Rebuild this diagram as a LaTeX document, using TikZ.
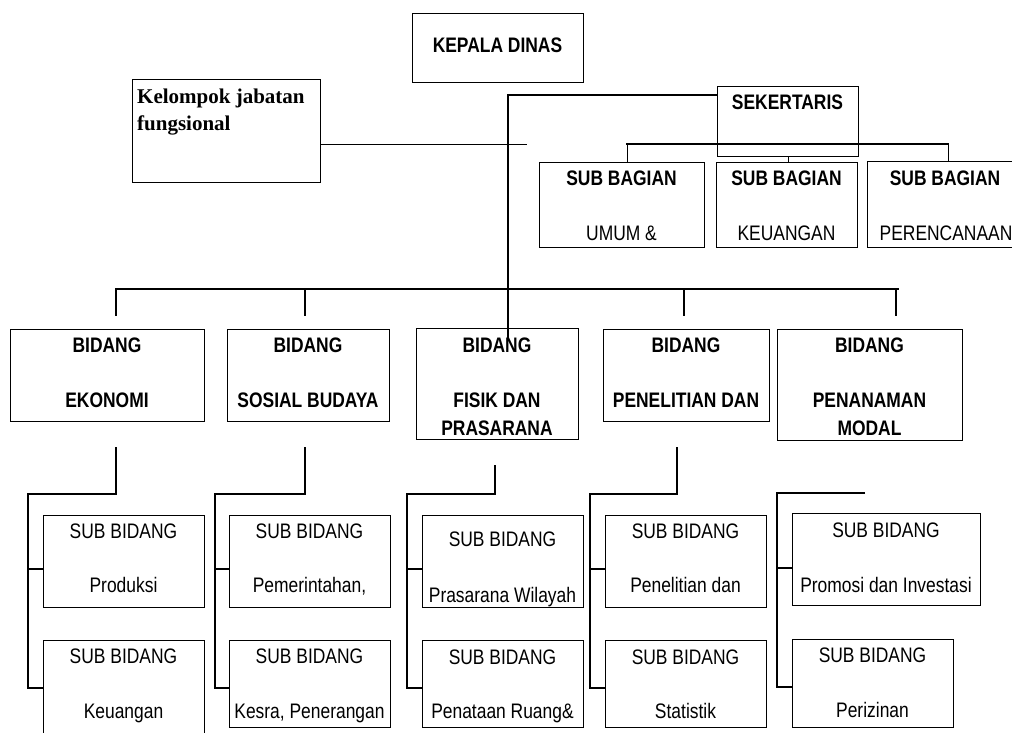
\documentclass[tikz,border=0pt]{standalone}
\usepackage{fontspec}
\setmainfont{Liberation Sans}[FakeStretch=0.83]
\newfontfamily\kelfont{Liberation Serif}
\begin{document}
\begin{tikzpicture}[x=1pt,y=-1pt,
  box/.style={draw=black,line width=1pt,rectangle,inner sep=0pt,outer sep=0pt},
  txt/.style={inner sep=0pt,outer sep=0pt,anchor=base,font=\fontsize{21}{25}\selectfont},
  btxt/.style={txt,font=\fontsize{21}{25}\selectfont\bfseries},
  conn/.style={line width=1.8pt,line cap=rect},
  thinconn/.style={line width=1pt}]
\newcommand{\boxnode}[5]{%
  \pgfmathsetmacro\bw{#4-#2}\pgfmathsetmacro\bh{#5-#3}%
  \node[box,minimum width=\bw pt,minimum height=\bh pt,anchor=north west] (#1) at (#2,#3) {};}
\fill[white] (0,0) rectangle (1012,733);
\useasboundingbox (0,0) rectangle (1012,733);

% ---- boxes
\boxnode{kepala}{412}{14}{583}{83}
\boxnode{kel}{132}{80}{320}{182}
\boxnode{sek}{717}{87}{858}{157}
\boxnode{sb1}{539}{163}{704}{247}
\boxnode{sb2}{716}{163}{857}{247}
\boxnode{sb3}{867}{162}{1023}{247}
\boxnode{b1}{10}{329}{204}{421}
\boxnode{b2}{227}{329}{389}{421}
\boxnode{b3}{416}{328}{578}{439}
\boxnode{b4}{603}{329}{769}{421}
\boxnode{b5}{777}{329}{962}{440}
\boxnode{s11}{43}{515}{204}{607}
\boxnode{s12}{43}{640}{204}{745}
\boxnode{s21}{229}{515}{390}{607}
\boxnode{s22}{229}{640}{390}{727}
\boxnode{s31}{422}{515}{583}{607}
\boxnode{s32}{422}{640}{583}{727}
\boxnode{s41}{605}{515}{766}{607}
\boxnode{s42}{605}{640}{766}{727}
\boxnode{s51}{792}{513}{980}{605}
\boxnode{s52}{792}{639}{953}{727}

% ---- texts
\node[btxt] (t-kepala) at (497.5,53) {KEPALA DINAS};
\node[inner sep=0pt,anchor=base west,font=\kelfont\fontsize{21}{25}\selectfont\bfseries] (t-kel1) at (137,104) {Kelompok jabatan};
\node[inner sep=0pt,anchor=base west,font=\kelfont\fontsize{21}{25}\selectfont\bfseries] (t-kel2) at (137,131) {fungsional};
\node[btxt] (t-sek) at (787.5,110) {SEKERTARIS};
\node[btxt] (t-sb1a) at (621.5,185) {SUB BAGIAN};
\node[txt]  (t-sb1b) at (621.5,240) {UMUM \&};
\node[btxt] (t-sb2a) at (786.5,185) {SUB BAGIAN};
\node[txt]  (t-sb2b) at (786.5,240) {KEUANGAN};
\node[btxt] (t-sb3a) at (945,185) {SUB BAGIAN};
\node[txt]  (t-sb3b) at (946,240) {PERENCANAAN};

\node[btxt] (t-b1a) at (107,352) {BIDANG};
\node[btxt] (t-b1b) at (107,407) {EKONOMI};
\node[btxt] (t-b2a) at (308,352) {BIDANG};
\node[btxt] (t-b2b) at (308,407) {SOSIAL BUDAYA};
\node[btxt] (t-b3a) at (497,352) {BIDANG};
\node[btxt] (t-b3b) at (497,407) {FISIK DAN};
\node[btxt] (t-b3c) at (497,435) {PRASARANA};
\node[btxt] (t-b4a) at (686,352) {BIDANG};
\node[btxt] (t-b4b) at (686,407) {PENELITIAN DAN};
\node[btxt] (t-b5a) at (869.5,352) {BIDANG};
\node[btxt] (t-b5b) at (869.5,407) {PENANAMAN};
\node[btxt] (t-b5c) at (869.5,435) {MODAL};

\node[txt] (t-s11a) at (123.5,538) {SUB BIDANG};
\node[txt] (t-s11b) at (123.5,592) {Produksi};
\node[txt] (t-s12a) at (123.5,663) {SUB BIDANG};
\node[txt] (t-s12b) at (123.5,718) {Keuangan};
\node[txt] (t-s21a) at (309.5,538) {SUB BIDANG};
\node[txt] (t-s21b) at (309.5,592) {Pemerintahan,};
\node[txt] (t-s22a) at (309.5,663) {SUB BIDANG};
\node[txt] (t-s22b) at (309.5,718) {Kesra, Penerangan};
\node[txt] (t-s31a) at (502.5,546) {SUB BIDANG};
\node[txt] (t-s31b) at (502.5,602) {Prasarana Wilayah};
\node[txt] (t-s32a) at (502.5,664) {SUB BIDANG};
\node[txt] (t-s32b) at (502.5,718) {Penataan Ruang\&};
\node[txt] (t-s41a) at (685.5,538) {SUB BIDANG};
\node[txt] (t-s41b) at (685.5,592) {Penelitian dan};
\node[txt] (t-s42a) at (685.5,664) {SUB BIDANG};
\node[txt] (t-s42b) at (685.5,718) {Statistik};
\node[txt] (t-s51a) at (886,537) {SUB BIDANG};
\node[txt] (t-s51b) at (886,592) {Promosi dan Investasi};
\node[txt] (t-s52a) at (872.5,662) {SUB BIDANG};
\node[txt] (t-s52b) at (872.5,717) {Perizinan};

% ---- connector coordinates
\coordinate (kelE) at (320,145);
\coordinate (kelEnd) at (527,145);
\coordinate (sekL) at (717,95);
\coordinate (sekEnd) at (508,337);
\coordinate (sbL) at (627,144);
\coordinate (sbR) at (948,144);
\coordinate (sbM) at (788,157);
\coordinate (bbL) at (116,289);
\coordinate (bbR) at (898,289);
\coordinate (tk1) at (116,315);
\coordinate (tk2) at (305,315);
\coordinate (tk4) at (684,315);
\coordinate (tk5) at (896,315);

% ---- connectors (upper)
\draw[thinconn] (kelE) -- (kelEnd);
\draw[conn] (sekL) -| (sekEnd);
\draw[conn] (sbL) -- (sbR);
\draw[thinconn] (sbL) -- (sbL |- sb1.north);
\draw[thinconn] (sbM) -- (sbM |- sb2.north);
\draw[thinconn] (sbR) -- (sbR |- sb3.north);
\draw[conn] (bbL) -- (bbR);
\draw[conn] (tk1 |- bbL) -- (tk1);
\draw[conn] (tk2 |- bbL) -- (tk2);
\draw[conn] (tk4 |- bbL) -- (tk4);
\draw[conn] (tk5 |- bbL) -- (tk5);

% ---- sub-bidang trees
% column 1
\coordinate (c1t) at (116,447);
\coordinate (c1m) at (28,494);
\coordinate (c1b) at (28,688);
\draw[conn,line cap=butt] (c1t) |- (c1m) -- (c1b);
\draw[conn,line cap=butt] (c1b |- 0,569) -- (c1b |- 0,569 -| s11.west);
\draw[conn,line cap=butt] ([xshift=-1pt]c1b) -- (c1b -| s12.west);
% column 2
\coordinate (c2t) at (305,447);
\coordinate (c2m) at (215,494);
\coordinate (c2b) at (215,688);
\draw[conn,line cap=butt] (c2t) |- (c2m) -- (c2b);
\draw[conn,line cap=butt] (c2b |- 0,569) -- (c2b |- 0,569 -| s21.west);
\draw[conn,line cap=butt] ([xshift=-1pt]c2b) -- (c2b -| s22.west);
% column 3
\coordinate (c3t) at (495,465);
\coordinate (c3m) at (407,494);
\coordinate (c3b) at (407,688);
\draw[conn,line cap=butt] (c3t) |- (c3m) -- (c3b);
\draw[conn,line cap=butt] (c3b |- 0,569) -- (c3b |- 0,569 -| s31.west);
\draw[conn,line cap=butt] ([xshift=-1pt]c3b) -- (c3b -| s32.west);
% column 4
\coordinate (c4t) at (677,447);
\coordinate (c4m) at (590,494);
\coordinate (c4b) at (590,688);
\draw[conn,line cap=butt] (c4t) |- (c4m) -- (c4b);
\draw[conn,line cap=butt] (c4b |- 0,569) -- (c4b |- 0,569 -| s41.west);
\draw[conn,line cap=butt] ([xshift=-1pt]c4b) -- (c4b -| s42.west);
% column 5
\coordinate (c5t) at (865,493);
\coordinate (c5m) at (777,493);
\coordinate (c5b) at (777,687);
\draw[conn,line cap=butt] (c5t) -- (c5m) -- (c5b);
\draw[conn,line cap=butt] (c5b |- 0,568) -- (c5b |- 0,568 -| s51.west);
\draw[conn,line cap=butt] ([xshift=-1pt]c5b) -- (c5b -| s52.west);
\end{tikzpicture}
\end{document}
